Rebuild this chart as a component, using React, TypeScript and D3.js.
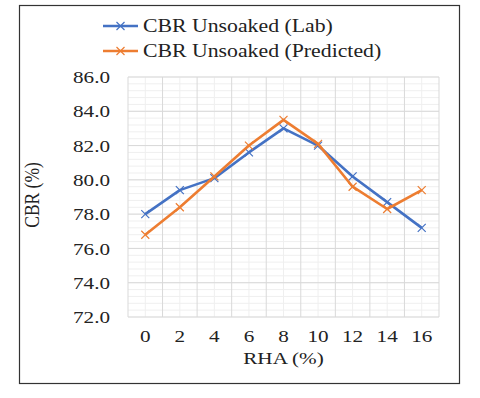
import React, { useEffect, useRef } from 'react';
import * as d3 from 'd3';

const rha = ['0', '2', '4', '6', '8', '10', '12', '14', '16'];
const labCbr = [78.0, 79.4, 80.1, 81.6, 83.0, 82.0, 80.2, 78.7, 77.2];
const predictedCbr = [76.8, 78.4, 80.2, 82.0, 83.5, 82.1, 79.6, 78.3, 79.4];
const yTicks = [72, 74, 76, 78, 80, 82, 84, 86];

const seriesList = [
  { name: 'CBR Unsoaked (Lab)', values: labCbr, color: '#4472C4' },
  { name: 'CBR Unsoaked (Predicted)', values: predictedCbr, color: '#ED7D31' },
];

export default function App() {
  const ref = useRef<SVGSVGElement>(null);

  useEffect(() => {
    const svg = d3.select(ref.current);
    svg.selectAll('*').remove();
    const font = '"Liberation Serif", "Times New Roman", serif';
    const sx = 1.21; // the original looks stretched sideways

    const left = 128, right = 439, top = 77, bottom = 317;

    // outer frame
    svg.append('rect')
      .attr('x', 19.5).attr('y', 5.5).attr('width', 440).attr('height', 378)
      .attr('fill', 'white').attr('stroke', '#333').attr('stroke-width', 1.2);

    const x = d3.scaleBand().domain(rha).range([left, right]);
    const y = d3.scaleLinear().domain([72, 86]).range([bottom, top]);

    const grid = svg.append('g');
    // minor horizontal grid
    d3.range(72, 86.01, 0.4).forEach(v => {
      grid.append('line')
        .attr('x1', left).attr('x2', right)
        .attr('y1', y(v)).attr('y2', y(v))
        .attr('stroke', '#efefef').attr('stroke-width', 1);
    });
    // minor vertical grid at category centers
    rha.forEach(c => {
      const cx = x(c)! + x.bandwidth() / 2;
      grid.append('line')
        .attr('x1', cx).attr('x2', cx).attr('y1', top).attr('y2', bottom)
        .attr('stroke', '#efefef').attr('stroke-width', 1);
    });
    // major grid
    yTicks.forEach(v => {
      grid.append('line')
        .attr('x1', left).attr('x2', right)
        .attr('y1', y(v)).attr('y2', y(v))
        .attr('stroke', '#d9d9d9').attr('stroke-width', 1);
    });
    rha.concat(['end']).forEach((c, i) => {
      const gx = i < rha.length ? x(c)! : right;
      grid.append('line')
        .attr('x1', gx).attr('x2', gx).attr('y1', top).attr('y2', bottom)
        .attr('stroke', '#d9d9d9').attr('stroke-width', 1);
    });

    // y tick labels
    svg.append('g').selectAll('text').data(yTicks).join('text')
      .attr('transform', d => `translate(110, ${y(d)}) scale(${sx}, 1)`)
      .attr('dy', '0.35em').attr('text-anchor', 'end')
      .attr('font-family', font).attr('font-size', 17.5).attr('fill', '#222')
      .text(d => d.toFixed(1));

    // x tick labels
    svg.append('g').selectAll('text').data(rha).join('text')
      .attr('transform', d => `translate(${x(d)! + x.bandwidth() / 2}, 336) scale(${sx}, 1)`)
      .attr('dy', '0.35em').attr('text-anchor', 'middle')
      .attr('font-family', font).attr('font-size', 17.5).attr('fill', '#222')
      .text(d => d);

    svg.append('text')
      .attr('transform', `translate(${(left + right) / 2}, 357.5) scale(${sx}, 1)`)
      .attr('dy', '0.35em').attr('text-anchor', 'middle')
      .attr('font-family', font).attr('font-size', 17.5).attr('fill', '#222')
      .text('RHA (%)');

    svg.append('text')
      .attr('transform', `translate(32, ${(top + bottom) / 2 - 2}) scale(${sx}, 1) rotate(-90)`)
      .attr('dy', '0.35em').attr('text-anchor', 'middle')
      .attr('font-family', font).attr('font-size', 17.5).attr('fill', '#222')
      .text('CBR (%)');

    const line = d3.line<number>()
      .x((_, i) => x(rha[i])! + x.bandwidth() / 2)
      .y(d => y(d));

    const m = 4;
    seriesList.forEach(s => {
      svg.append('path').datum(s.values)
        .attr('d', line).attr('fill', 'none')
        .attr('stroke', s.color).attr('stroke-width', 2.6)
        .attr('stroke-linejoin', 'round');
      svg.append('g').selectAll('path').data(s.values).join('path')
        .attr('d', (d, i) => {
          const cx = x(rha[i])! + x.bandwidth() / 2, cy = y(d);
          return `M${cx - m},${cy - m}L${cx + m},${cy + m}M${cx - m},${cy + m}L${cx + m},${cy - m}`;
        })
        .attr('stroke', s.color).attr('stroke-width', 1.2);
    });

    // legend
    seriesList.forEach((s, i) => {
      const ly = 26 + i * 25;
      svg.append('line')
        .attr('x1', 103).attr('x2', 138).attr('y1', ly).attr('y2', ly)
        .attr('stroke', s.color).attr('stroke-width', 2.6);
      svg.append('path')
        .attr('d', `M${120.5 - m},${ly - m}L${120.5 + m},${ly + m}M${120.5 - m},${ly + m}L${120.5 + m},${ly - m}`)
        .attr('stroke', s.color).attr('stroke-width', 1.2);
      svg.append('text')
        .attr('transform', `translate(143, ${ly}) scale(${sx}, 1)`)
        .attr('dy', '0.35em')
        .attr('font-family', font).attr('font-size', 18).attr('fill', '#222')
        .text(s.name);
    });
  }, []);

  return (
    <svg ref={ref} width={480} height={398}
      style={{ position: 'absolute', left: 0, top: 0, background: 'white' }} />
  );
}
